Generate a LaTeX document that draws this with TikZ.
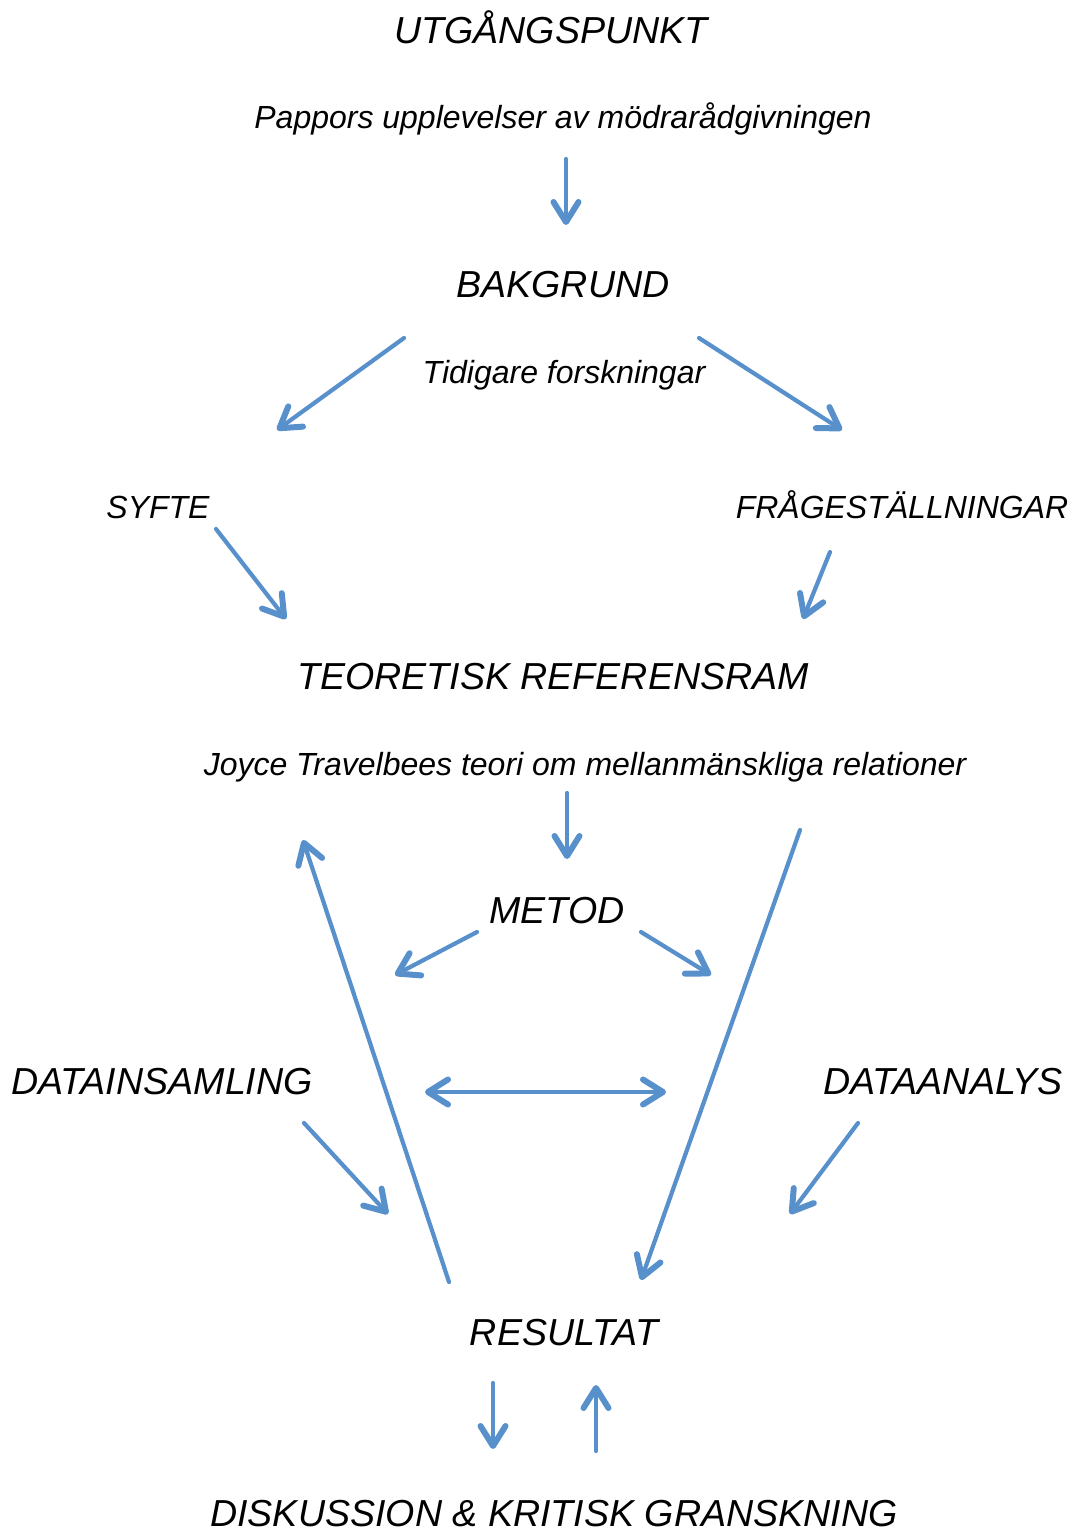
\documentclass[tikz,border=0pt]{standalone}
\usepackage{fontspec}
\setmainfont{Liberation Sans}
\usetikzlibrary{arrows.meta}
\definecolor{arrowblue}{RGB}{88,144,204}

\begin{document}
\begin{tikzpicture}[
  x=0.5pt, y=-0.5pt,
  headline/.style={font=\fontsize{18.8}{22}\selectfont\itshape, anchor=base, inner sep=0pt},
  subline/.style={font=\fontsize{16}{19}\selectfont\itshape, anchor=base, inner sep=0pt},
  barb/.tip={Straight Barb[length=10pt, width=12.5pt, line width=3pt, line cap=round, line join=round]},
  flow/.style={draw=arrowblue, line width=2.1pt, line cap=round, -barb},
  flowboth/.style={flow, barb-barb}
  ]
  % picture size (px)
  \useasboundingbox (0, 0) rectangle (1074, 1531);

  %% texts
  \node[headline] (start) at (551, 43) {UTGÅNGSPUNKT};
  \node[subline] (pappor) at (563, 128) {Pappors upplevelser av mödrarådgivningen};
  \node[headline] (bakgrund) at (563, 297) {BAKGRUND};
  \node[subline] (tidigare) at (564, 383) {Tidigare forskningar};
  \node[subline] (syfte) at (158, 518) {SYFTE};
  \node[subline] (fragor) at (902, 518) {FRÅGESTÄLLNINGAR};
  \node[headline] (teori) at (553, 689) {TEORETISK REFERENSRAM};
  \node[subline] (joyce) at (585, 775) {Joyce Travelbees teori om mellanmänskliga relationer};
  \node[headline] (metod) at (557, 923) {METOD};
  \node[headline] (insamling) at (162, 1094) {DATAINSAMLING};
  \node[headline] (analys) at (943, 1094) {DATAANALYS};
  \node[headline] (resultat) at (564, 1345) {RESULTAT};
  \node[headline] (diskussion) at (554, 1526) {DISKUSSION \& KRITISK GRANSKNING};

  %% arrow ends
  \coordinate (a1) at (566, 159);  \coordinate (a2) at (566, 225);
  \coordinate (b1) at (404, 338);  \coordinate (b2) at (277, 430);
  \coordinate (c1) at (699, 338);  \coordinate (c2) at (842, 430);
  \coordinate (d1) at (216, 529);  \coordinate (d2) at (286, 619);
  \coordinate (e1) at (830, 552);  \coordinate (e2) at (803, 619);
  \coordinate (f1) at (567, 793);  \coordinate (f2) at (567, 859);
  \coordinate (g1) at (449, 1282); \coordinate (g2) at (303, 840);
  \coordinate (h1) at (800, 830);  \coordinate (h2) at (641, 1280);
  \coordinate (i1) at (477, 932);  \coordinate (i2) at (395, 975);
  \coordinate (j1) at (641, 932);  \coordinate (j2) at (711, 975);
  \coordinate (k1) at (425, 1092); \coordinate (k2) at (666, 1092);
  \coordinate (l1) at (304, 1123); \coordinate (l2) at (388, 1214);
  \coordinate (m1) at (858, 1123); \coordinate (m2) at (790, 1214);
  \coordinate (n1) at (493, 1383); \coordinate (n2) at (493, 1449);
  \coordinate (o1) at (596, 1451); \coordinate (o2) at (596, 1385);

  %% arrows
  \draw[flow] (a1) -- (a2);
  \draw[flow] (b1) -- (b2);
  \draw[flow] (c1) -- (c2);
  \draw[flow] (d1) -- (d2);
  \draw[flow] (e1) -- (e2);
  \draw[flow] (f1) -- (f2);
  \draw[flow] (g1) -- (g2);
  \draw[flow] (h1) -- (h2);
  \draw[flow] (i1) -- (i2);
  \draw[flow] (j1) -- (j2);
  \draw[flowboth] (k1) -- (k2);
  \draw[flow] (l1) -- (l2);
  \draw[flow] (m1) -- (m2);
  \draw[flow] (n1) -- (n2);
  \draw[flow] (o1) -- (o2);
\end{tikzpicture}
\end{document}
